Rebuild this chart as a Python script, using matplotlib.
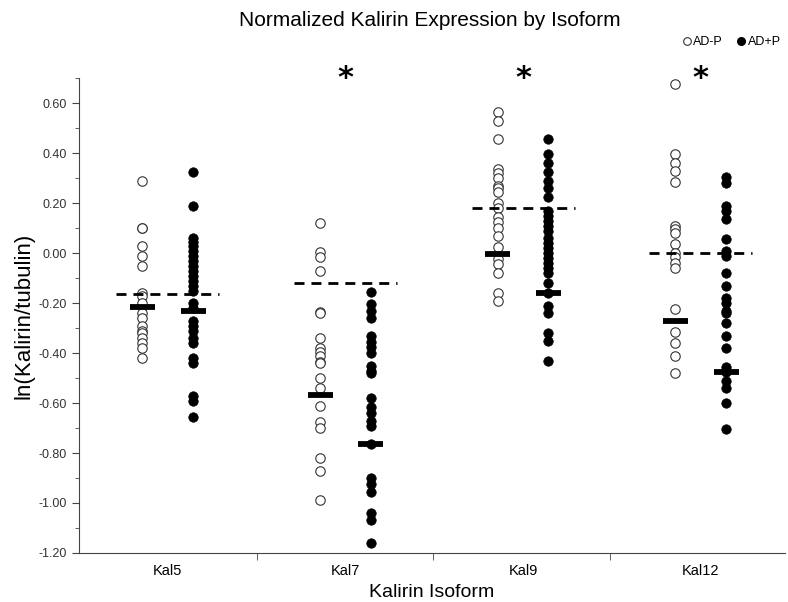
import numpy as np
import matplotlib
matplotlib.use('Agg')
import matplotlib.pyplot as plt
from matplotlib.lines import Line2D

plt.rcParams['font.family'] = ['Liberation Sans', 'DejaVu Sans']

## Data

iso_forms = ['Kal5', 'Kal7', 'Kal9', 'Kal12']

# AD-P (open circles)
adp_kal5 = [0.29, 0.10, 0.10, 0.03, -0.01, -0.05, -0.16, -0.17, -0.20, -0.24, -0.26,
            -0.29, -0.31, -0.32, -0.34, -0.36, -0.38, -0.42]
adp_kal7 = [0.12, 0.005, -0.015, -0.07, -0.235, -0.24, -0.34, -0.38, -0.395, -0.41,
            -0.435, -0.44, -0.50, -0.54, -0.61, -0.675, -0.70, -0.82, -0.87, -0.99]
adp_kal9 = [0.565, 0.53, 0.455, 0.335, 0.32, 0.30, 0.27, 0.26, 0.245, 0.20, 0.18,
            0.145, 0.125, 0.10, 0.07, 0.025, -0.025, -0.045, -0.08, -0.16, -0.19]
adp_kal12 = [0.675, 0.395, 0.36, 0.33, 0.285, 0.11, 0.095, 0.08, 0.035, 0.0, -0.015,
             -0.04, -0.06, -0.225, -0.315, -0.36, -0.41, -0.48]

# AD+P (filled circles)
adpp_kal5 = [0.325, 0.19, 0.06, 0.045, 0.03, 0.01, -0.01, -0.03, -0.05, -0.07, -0.09,
             -0.11, -0.13, -0.15, -0.20, -0.22, -0.27, -0.29, -0.31, -0.34, -0.36,
             -0.42, -0.44, -0.57, -0.59, -0.655]
adpp_kal7 = [-0.155, -0.205, -0.23, -0.26, -0.33, -0.355, -0.375, -0.40, -0.45, -0.47,
             -0.48, -0.58, -0.615, -0.64, -0.67, -0.69, -0.765, -0.90, -0.925, -0.955,
             -1.04, -1.07, -1.16]
adpp_kal9 = [0.455, 0.395, 0.36, 0.325, 0.29, 0.26, 0.225, 0.17, 0.15, 0.13, 0.11, 0.09,
             0.06, 0.04, 0.02, 0.0, -0.02, -0.04, -0.06, -0.08, -0.12, -0.16, -0.21,
             -0.24, -0.32, -0.35, -0.43]
adpp_kal12 = [0.305, 0.28, 0.19, 0.17, 0.135, 0.055, 0.01, -0.01, -0.08, -0.13, -0.18,
              -0.20, -0.23, -0.24, -0.28, -0.33, -0.38, -0.455, -0.475, -0.51, -0.54,
              -0.60, -0.705]

# Group summary bars and the dashed reference levels
adp_means = [-0.215, -0.568, -0.005, -0.27]
adpp_means = [-0.23, -0.765, -0.16, -0.475]
ref_levels = [-0.165, -0.12, 0.18, 0.0]

# Significant isoforms
star_flags = [False, True, True, True]

# y tick values
y_ticks = [-1.2, -1.0, -0.8, -0.6, -0.4, -0.2, 0.0, 0.2, 0.4, 0.6]

adp_all = [adp_kal5, adp_kal7, adp_kal9, adp_kal12]
adpp_all = [adpp_kal5, adpp_kal7, adpp_kal9, adpp_kal12]

## Plot

fig_ure = plt.figure(figsize=(7.88, 6.02), dpi=100)
ax1 = fig_ure.add_axes([0.1003, 0.0814, 0.896, 0.789])

off_set = 0.143
for i in range(len(iso_forms)):
    # open and filled points
    ax1.plot(np.full(len(adp_all[i]), i - off_set), adp_all[i], 'o', ms=6.8,
             mfc='white', mec='#333333', mew=0.8, zorder=3)
    ax1.plot(np.full(len(adpp_all[i]), i + off_set), adpp_all[i], 'o', ms=6.8,
             mfc='black', mec='black', mew=0.5, zorder=3)
    # dashed reference level
    ax1.plot([i - 0.29, i + 0.29], [ref_levels[i]] * 2, color='black', lw=2,
             dashes=(3.6, 2.5), zorder=4)
    # summary bars
    ax1.plot([i - off_set - 0.07, i - off_set + 0.07], [adp_means[i]] * 2,
             color='black', lw=4.2, solid_capstyle='butt', zorder=5)
    ax1.plot([i + off_set - 0.07, i + off_set + 0.07], [adpp_means[i]] * 2,
             color='black', lw=4.2, solid_capstyle='butt', zorder=5)
    if star_flags[i]:
        ax1.text(i, 0.70, '*', ha='center', va='center', fontsize=22,
                 fontweight='bold', clip_on=False, family='DejaVu Sans')

ax1.set_xlim(-0.5, 3.475)
ax1.set_ylim(-1.2, 0.7)

# Axes and ticks
for side in ['top', 'right']:
    ax1.spines[side].set_visible(False)
ax1.spines['left'].set_color('#444444')
ax1.spines['bottom'].set_color('#444444')

ax1.set_yticks(y_ticks)
ax1.set_yticklabels(['%.2f' % abs(v) if abs(v) < 1e-9 else '%.2f' % v for v in y_ticks])
ax1.set_yticks(np.arange(-1.1, 0.71, 0.2), minor=True)
ax1.tick_params(axis='y', which='major', direction='out', length=5, labelsize=9,
                labelcolor='#333333', color='#444444')
ax1.tick_params(axis='y', which='minor', direction='out', length=3, color='#444444')

ax1.set_xticks(range(len(iso_forms)))
ax1.set_xticklabels(iso_forms)
ax1.set_xticks([0.5, 1.49, 2.49], minor=True)
ax1.tick_params(axis='x', which='major', length=0, labelsize=10.5, pad=8)
ax1.tick_params(axis='x', which='minor', direction='out', length=5, color='#444444')

ax1.set_xlabel('Kalirin Isoform', size=14, labelpad=4)
ax1.set_ylabel('ln(Kalirin/tubulin)', size=16, labelpad=3)

fig_ure.text(0.545, 0.966, 'Normalized Kalirin Expression by Isoform', ha='center',
             va='center', fontsize=15)

# Legend in the top right corner
hand_les = [Line2D([], [], ls='', marker='o', ms=5.5, mfc='white', mec='#333333', mew=0.8),
            Line2D([], [], ls='', marker='o', ms=5.5, mfc='black', mec='black')]
leg_end = fig_ure.legend(hand_les, ['AD-P', 'AD+P'], loc='center right',
                         bbox_to_anchor=(1.005, 0.93), ncol=2, frameon=False,
                         fontsize=9, handletextpad=0.0, columnspacing=1.0,
                         handlelength=1.0)

fig_ure.savefig('out.png', dpi=100)
